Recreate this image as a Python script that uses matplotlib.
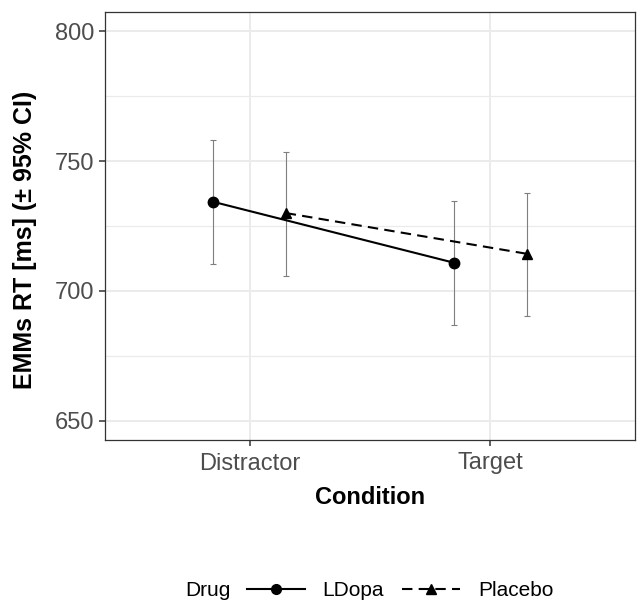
import matplotlib.pyplot as plt
from matplotlib.lines import Line2D

plt.rcParams['font.family'] = ['Liberation Sans', 'DejaVu Sans']

conditions = ['Distractor', 'Target']
drugs = ['LDopa', 'Placebo']
emm = {'LDopa': [734.3, 710.8], 'Placebo': [730.0, 714.3]}
ci_low = {'LDopa': [710.4, 687.0], 'Placebo': [705.8, 690.2]}
ci_high = {'LDopa': [758.0, 734.6], 'Placebo': [753.4, 737.8]}

markers = {'LDopa': 'o', 'Placebo': '^'}
styles = {'LDopa': '-', 'Placebo': (0, (5, 3))}
offsets = {'LDopa': -0.15, 'Placebo': 0.15}

fig = plt.figure(figsize=(6.37, 6.03), dpi=100)
ax = fig.add_axes([105 / 637, 1 - 440 / 603, 530 / 637, 428 / 603])

xs = [1, 2]
for d in drugs:
    xd = [x + offsets[d] for x in xs]
    lo = [m - l for m, l in zip(emm[d], ci_low[d])]
    hi = [h - m for m, h in zip(emm[d], ci_high[d])]
    ax.errorbar(xd, emm[d], yerr=[lo, hi], fmt='none', ecolor='#7f7f7f',
                elinewidth=0.8, capsize=2.2, capthick=0.8, zorder=2)
    ax.plot(xd, emm[d], color='black', linestyle=styles[d], linewidth=1.5,
            marker=markers[d], markersize=7.5, zorder=3)

ax.set_xlim(0.4, 2.6)
ax.set_ylim(642.5, 807.5)
ax.set_xticks(xs)
ax.set_xticklabels(conditions)
ax.set_yticks([650, 700, 750, 800])
ax.set_yticks([675, 725, 775], minor=True)
ax.tick_params(axis='both', which='major', labelsize=17, labelcolor='#4d4d4d',
               color='#333333', length=4, width=1.1, pad=4)
ax.tick_params(axis='x', which='major', pad=5)
ax.tick_params(axis='y', which='minor', length=0)
ax.grid(which='major', color='#ebebeb', linewidth=1.4, zorder=0)
ax.grid(which='minor', axis='y', color='#ebebeb', linewidth=0.9, zorder=0)
ax.set_axisbelow(True)
for s in ax.spines.values():
    s.set_color('#333333')
    s.set_linewidth(0.9)

ax.set_xlabel('Condition', fontsize=17, fontweight='bold', labelpad=8)
ax.set_ylabel('EMMs RT [ms] (± 95% CI)', fontsize=18, fontweight='bold')
ax.yaxis.set_label_coords(-0.128, 0.467)

handles = [Line2D([], [], color='black', linestyle=styles[d], linewidth=1.5,
                  marker=markers[d], markersize=7) for d in drugs]
fig.text(185 / 637, 1 - 591 / 603, 'Drug', fontsize=15, va='center', ha='left')
fig.legend(handles, drugs, loc='center', bbox_to_anchor=(400 / 637, 1 - 591 / 603),
           ncol=2, frameon=False, fontsize=15, handlelength=2.8,
           handletextpad=0.85, columnspacing=0.85)

fig.savefig('out.png', dpi=100)
